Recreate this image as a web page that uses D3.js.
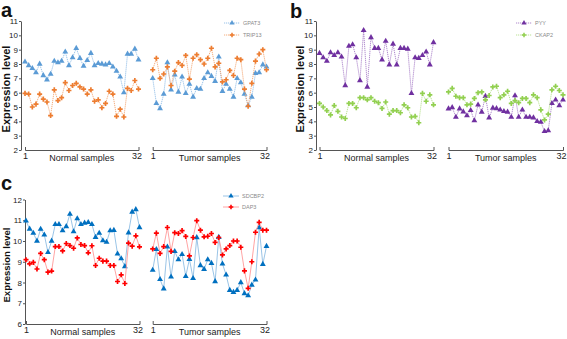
<!DOCTYPE html>
<html>
<head>
<meta charset="utf-8">
<script src="https://cdn.jsdelivr.net/npm/d3@7"></script>
<style>
body { margin: 0; background: #fff; }
svg text { font-family: "Liberation Sans", Arial, sans-serif; }
.axis path, .axis line { stroke: #555; stroke-width: 1; fill: none; }
.axis text { fill: #222; font-size: 8px; }
.legend text { fill: #8a8a8a; font-size: 5.5px; }
.panel-letter { font-weight: bold; font-size: 20px; fill: #111; }
.y-title { font-weight: bold; fill: #111; }
.group-title { font-size: 9px; fill: #222; }
</style>
</head>
<body>
<svg id="chart" width="567" height="339"></svg>
<script>
// Tick labels / categories
var GROUP_LABELS = ['Normal samples', 'Tumor samples'];
var X_TICKS = [1, 32];
var Y_TICKS_AB = [2, 3, 4, 5, 6, 7, 8, 9, 10, 11];
var Y_TICKS_C = [6, 7, 8, 9, 10, 11, 12];

// Panel a
var GPAT3_NORMAL = [8.15, 7.9, 7.7, 7.4, 8.0, 7.2, 6.9, 7.3, 8.2, 8.1, 8.2, 8.85, 7.9, 8.45, 9.1, 8.4, 7.85, 8.25, 8.75, 7.9, 8.05, 8.0, 7.95, 8.05, 7.8, 7.5, 7.1, 6.0, 8.7, 8.7, 9.05, 8.3];
var TRIP13_NORMAL = [5.95, 5.9, 5.0, 5.2, 5.9, 5.55, 5.35, 4.4, 6.2, 5.45, 5.65, 6.7, 6.15, 6.5, 6.65, 6.4, 6.25, 5.9, 6.2, 5.4, 5.5, 4.95, 5.25, 6.1, 5.9, 4.35, 4.85, 4.3, 6.3, 6.15, 6.85, 6.25];
var GPAT3_TUMOR = [7.0, 5.25, 4.9, 5.9, 8.1, 6.2, 7.25, 6.05, 7.1, 5.95, 6.6, 5.7, 6.3, 6.25, 7.0, 7.4, 7.15, 6.8, 8.5, 6.1, 6.6, 6.25, 5.7, 7.0, 6.7, 5.9, 5.1, 5.7, 7.35, 7.4, 7.95, 7.8];
var TRIP13_TUMOR = [7.6, 8.4, 7.0, 7.3, 7.8, 6.5, 7.5, 8.1, 7.9, 8.6, 6.95, 8.4, 8.65, 8.3, 8.0, 8.4, 9.1, 7.8, 8.05, 6.75, 6.9, 7.55, 7.2, 8.4, 8.3, 6.25, 5.05, 6.65, 8.2, 8.7, 9.0, 7.6];

// Panel b
var PYY_NORMAL = [8.75, 8.45, 8.2, 8.8, 8.6, 8.8, 8.5, 6.5, 9.25, 9.35, 8.45, 6.85, 10.35, 6.4, 9.85, 9.1, 9.1, 8.3, 9.6, 7.95, 9.4, 7.95, 9.1, 9.1, 9.05, 5.95, 8.45, 8.4, 8.6, 8.85, 7.95, 9.5];
var CKAP2_NORMAL = [5.25, 5.0, 4.75, 4.45, 5.1, 4.7, 4.3, 4.2, 5.25, 5.25, 4.95, 5.65, 5.65, 5.5, 5.65, 5.4, 5.3, 4.9, 5.35, 4.5, 4.75, 4.75, 4.6, 5.15, 4.95, 4.3, 4.35, 3.9, 5.95, 5.4, 5.85, 5.15];
var PYY_TUMOR = [4.88, 4.97, 4.3, 4.88, 4.67, 4.4, 4.77, 4.05, 5.15, 4.65, 5.75, 4.25, 4.93, 4.9, 4.8, 4.7, 4.65, 4.3, 5.8, 4.3, 4.8, 4.3, 4.3, 4.25, 4.0, 3.95, 3.3, 3.35, 5.25, 5.5, 5.1, 5.5];
var CKAP2_TUMOR = [6.05, 6.3, 5.75, 5.65, 5.65, 5.15, 5.2, 5.6, 6.0, 6.05, 5.5, 5.8, 6.4, 6.45, 5.65, 5.85, 6.1, 5.25, 5.45, 5.3, 5.6, 5.6, 5.3, 5.85, 5.65, 4.8, 4.1, 4.5, 6.2, 6.45, 6.15, 5.85];

// Panel c
var SDCBP2_NORMAL = [10.97, 10.58, 10.38, 10.0, 10.57, 10.3, 9.45, 10.0, 10.8, 10.8, 10.5, 10.7, 11.3, 10.45, 11.08, 10.8, 10.87, 10.9, 10.8, 10.18, 10.38, 10.02, 9.95, 10.5, 10.52, 9.38, 9.15, 8.77, 10.4, 11.4, 11.52, 10.65];
var DAP3_NORMAL = [9.1, 8.9, 8.97, 8.65, 9.4, 9.1, 8.5, 8.55, 9.73, 9.73, 9.52, 9.88, 9.78, 9.65, 10.15, 9.83, 9.78, 9.43, 9.77, 8.82, 9.17, 9.03, 9.03, 8.82, 8.82, 8.05, 8.37, 7.95, 9.9, 9.75, 10.25, 9.72];
var SDCBP2_TUMOR = [8.6, 9.6, 8.15, 7.7, 9.72, 8.27, 9.5, 9.1, 9.36, 8.3, 9.12, 8.2, 10.17, 8.82, 8.64, 9.1, 8.93, 8.05, 10.18, 8.9, 8.37, 7.63, 7.53, 7.63, 8.0, 7.47, 7.37, 7.88, 8.13, 10.65, 8.88, 9.75];
var DAP3_TUMOR = [9.62, 10.38, 9.4, 9.73, 10.65, 9.5, 10.4, 10.36, 10.5, 10.22, 9.28, 10.17, 10.98, 10.52, 10.2, 10.23, 10.36, 9.93, 10.17, 9.33, 9.62, 9.78, 10.0, 10.0, 9.7, 8.56, 7.72, 9.0, 10.42, 10.9, 10.52, 10.52];

var svg = d3.select('#chart');

/*
 * Render one panel (y axis, two sample groups, legend)
 */
var renderPanel = function(config) {
	var g = svg.append('g').attr('transform', 'translate(' + config.dx + ',0)');

	var yScale = d3.scaleLinear().domain(config.yDomain).range(config.yRange);

	g.append('text')
		.attr('class', 'panel-letter')
		.attr('x', config.letter[0])
		.attr('y', config.letter[1])
		.text(config.name);

	g.append('text')
		.attr('class', 'y-title')
		.attr('transform', 'translate(' + config.yTitle[0] + ',' + config.yTitle[1] + ') rotate(-90)')
		.attr('text-anchor', 'middle')
		.style('font-size', config.yTitleSize + 'px')
		.text('Expression level');

	g.append('g')
		.attr('class', 'axis y')
		.attr('transform', 'translate(' + config.yAxisX + ',0)')
		.call(d3.axisLeft(yScale)
			.tickValues(config.yTicks)
			.tickFormat(d3.format('d'))
			.tickSize(2)
			.tickSizeOuter(0)
			.tickPadding(1));

	var baseY = config.yRange[0];

	config.groups.forEach(function(range, gi) {
		var xScale = d3.scaleLinear().domain([1, 32]).range(range);

		var axis = g.append('g')
			.attr('class', 'axis x')
			.attr('transform', 'translate(0,' + baseY + ')')
			.call(d3.axisBottom(xScale).tickValues(X_TICKS).tickSizeInner(0).tickSizeOuter(-3).tickPadding(3));
		axis.selectAll('.tick text')
			.style('font-size', '9px')
			.attr('dx', function(d) { return d === 32 ? -2 : 0; });

		g.append('text')
			.attr('class', 'group-title')
			.attr('x', (range[0] + range[1]) / 2)
			.attr('y', baseY + 11)
			.attr('text-anchor', 'middle')
			.text(GROUP_LABELS[gi]);

		config.series.forEach(function(s) {
			var values = gi === 0 ? s.normal : s.tumor;
			var line = d3.line()
				.x(function(d, i) { return xScale(i + 1); })
				.y(function(d) { return yScale(d); });

			g.append('path')
				.attr('d', line(values))
				.attr('fill', 'none')
				.attr('stroke', s.lineColor)
				.attr('stroke-width', 0.9)
				.attr('stroke-dasharray', s.dash);

			g.append('g')
				.selectAll('path')
				.data(values)
				.enter()
				.append('path')
				.attr('transform', function(d, i) {
					return 'translate(' + xScale(i + 1) + ',' + yScale(d) + ')';
				})
				.attr('d', d3.symbol().type(s.symbol).size(s.symbol === d3.symbolTriangle ? 15 : 14))
				.attr('fill', s.color);
		});
	});

	// Legend
	var legend = g.append('g').attr('class', 'legend');
	config.series.forEach(function(s, i) {
		var ly = config.legend[1] + i * config.legendGap;
		legend.append('line')
			.attr('x1', config.legend[0])
			.attr('x2', config.legend[0] + 16)
			.attr('y1', ly)
			.attr('y2', ly)
			.attr('stroke', s.lineColor)
			.attr('stroke-width', 0.9)
			.attr('stroke-dasharray', s.dash);
		legend.append('path')
			.attr('transform', 'translate(' + (config.legend[0] + 8) + ',' + ly + ')')
			.attr('d', d3.symbol().type(s.symbol).size(12))
			.attr('fill', s.color);
		legend.append('text')
			.attr('x', config.legend[0] + 19)
			.attr('y', ly + 2)
			.text(s.name);
	});
};

renderPanel({
	name: 'a', dx: 0, letter: [1, 17],
	yDomain: [2, 11], yRange: [150, 21], yTicks: Y_TICKS_AB, yAxisX: 21,
	yTitle: [10, 89], yTitleSize: 11,
	groups: [[25, 138.5], [152.7, 266.5]],
	legend: [224, 23], legendGap: 12,
	series: [
		{ name: 'GPAT3', color: '#5b9bd5', lineColor: '#8dbbe6', dash: '1.2,0.8', symbol: d3.symbolTriangle, normal: GPAT3_NORMAL, tumor: GPAT3_TUMOR },
		{ name: 'TRIP13', color: '#ed7d31', lineColor: '#f3a571', dash: '1.2,0.8', symbol: d3.symbolCross, normal: TRIP13_NORMAL, tumor: TRIP13_TUMOR }
	]
});

renderPanel({
	name: 'b', dx: 295, letter: [-5, 18],
	yDomain: [2, 11], yRange: [150, 21], yTicks: Y_TICKS_AB, yAxisX: 21,
	yTitle: [8.5, 89], yTitleSize: 11,
	groups: [[24.5, 138.5], [153.5, 268]],
	legend: [221, 23], legendGap: 12,
	series: [
		{ name: 'PYY', color: '#7030a0', lineColor: '#a67cc6', dash: '1.2,0.8', symbol: d3.symbolTriangle, normal: PYY_NORMAL, tumor: PYY_TUMOR },
		{ name: 'CKAP2', color: '#92d050', lineColor: '#b3df88', dash: '1.2,0.8', symbol: d3.symbolCross, normal: CKAP2_NORMAL, tumor: CKAP2_TUMOR }
	]
});

renderPanel({
	name: 'c', dx: 0, letter: [1, 190],
	yDomain: [6, 12], yRange: [324, 199.5], yTicks: Y_TICKS_C, yAxisX: 25,
	yTitle: [10, 265], yTitleSize: 9.5,
	groups: [[26, 139.5], [152.7, 266.5]],
	legend: [223, 196], legendGap: 11,
	series: [
		{ name: 'SDCBP2', color: '#0070c0', lineColor: '#8fbde3', dash: null, symbol: d3.symbolTriangle, normal: SDCBP2_NORMAL, tumor: SDCBP2_TUMOR },
		{ name: 'DAP3', color: '#ff0000', lineColor: '#ff9a9a', dash: null, symbol: d3.symbolCross, normal: DAP3_NORMAL, tumor: DAP3_TUMOR }
	]
});
</script>
</body>
</html>
